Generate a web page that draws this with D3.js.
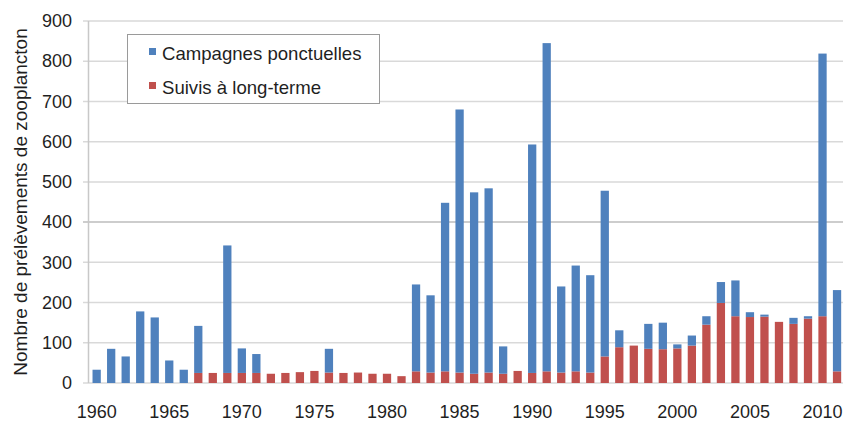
<!DOCTYPE html>
<html>
<head>
<meta charset="utf-8">
<script src="https://cdn.jsdelivr.net/npm/d3@7"></script>
<style>
  body { margin: 0; background: #fff; }
  svg { display: block; font-family: "Liberation Sans", Arial, sans-serif; }
</style>
</head>
<body>
<svg id="chart"></svg>
<script>
// Years 1960-2011
const years = d3.range(1960, 2012);
// Campagnes ponctuelles (blue, stacked on top)
const campagnes = [33, 85, 66, 178, 163, 56, 33, 117, 0, 317,
  61, 47, 0, 0, 0, 0, 59, 0, 0, 0,
  0, 0, 216, 192, 419, 654, 451, 458, 68, 0,
  568, 816, 214, 263, 242, 412, 42, 0, 62, 66,
  10, 25, 21, 52, 89, 12, 5, 0, 15, 6,
  653, 202];
// Suivis à long-terme (red, bottom)
const suivis = [0, 0, 0, 0, 0, 0, 0, 25, 25, 25,
  25, 25, 23, 25, 27, 30, 26, 25, 26, 23,
  23, 17, 29, 26, 29, 26, 23, 26, 23, 30,
  25, 29, 26, 29, 26, 66, 89, 93, 85, 84,
  86, 93, 145, 199, 166, 164, 165, 152, 147, 160,
  166, 29];
const yTicks = [0, 100, 200, 300, 400, 500, 600, 700, 800, 900];
const xTickYears = [1960, 1965, 1970, 1975, 1980, 1985, 1990, 1995, 2000, 2005, 2010];

const W = 843, H = 421;
const blue = "#4f81bd", red = "#c0504d";

const svg = d3.select("#chart").attr("width", W).attr("height", H);

const x = d3.scaleBand()
    .domain(years)
    .range([89.4, 844.3])
    .paddingInner(0.43)
    .paddingOuter(0.215);

const y = d3.scaleLinear().domain([0, 900]).range([383, 21]);

// grid
const grid = svg.append("g");
grid.selectAll("line")
    .data(yTicks)
    .enter().append("line")
    .attr("x1", 83).attr("x2", W)
    .attr("y1", d => y(d)).attr("y2", d => y(d))
    .attr("stroke", d => d === 400 ? "#bdbdbd" : "#d9d9d9")
    .attr("stroke-width", 1.5);

// y axis line
svg.append("line")
    .attr("x1", 88.5).attr("x2", 88.5)
    .attr("y1", y(900)).attr("y2", y(0))
    .attr("stroke", "#c8c8c8").attr("stroke-width", 1.5);

// stacked bars
const rows = years.map((yr, i) => ({ year: yr, suivis: suivis[i], campagnes: campagnes[i] }));
const stack = d3.stack().keys(["suivis", "campagnes"])(rows);
const colors = { suivis: red, campagnes: blue };

stack.forEach(layer => {
    svg.append("g")
        .selectAll("rect")
        .data(layer.filter(d => d[1] - d[0] > 0))
        .enter().append("rect")
        .attr("x", d => x(d.data.year))
        .attr("width", x.bandwidth())
        .attr("y", d => y(d[1]))
        .attr("height", d => y(d[0]) - y(d[1]))
        .attr("fill", colors[layer.key]);
});

// x axis labels
const xAxis = svg.append("g")
    .attr("transform", `translate(0,${y(0)})`)
    .call(d3.axisBottom(x).tickValues(xTickYears).tickSize(0).tickPadding(22));
xAxis.select(".domain").remove();
xAxis.selectAll("text")
    .attr("font-size", 18)
    .attr("font-family", "Liberation Sans, Arial, sans-serif")
    .attr("fill", "#1f1f1f");

// y axis labels
const yAxis = svg.append("g")
    .attr("transform", "translate(72,0)")
    .call(d3.axisLeft(y).tickValues(yTicks).tickSize(0).tickPadding(0));
yAxis.select(".domain").remove();
yAxis.selectAll("text")
    .attr("font-size", 18)
    .attr("font-family", "Liberation Sans, Arial, sans-serif")
    .attr("fill", "#1f1f1f");

// y title
svg.append("text")
    .attr("transform", `translate(27,${(y(0) + y(900)) / 2}) rotate(-90)`)
    .attr("text-anchor", "middle")
    .attr("font-size", 19)
    .attr("fill", "#1f1f1f")
    .text("Nombre de prélèvements de zooplancton");

// legend
const legend = svg.append("g");
legend.append("rect")
    .attr("x", 127.5).attr("y", 34.5)
    .attr("width", 252).attr("height", 69)
    .attr("fill", "#fff")
    .attr("stroke", "#9a9a9a");

const legendItems = [
    { label: "Campagnes ponctuelles", color: blue },
    { label: "Suivis à long-terme", color: red }
];
legendItems.forEach((d, i) => {
    const g = legend.append("g").attr("transform", `translate(0,${i * 34})`);
    g.append("rect")
        .attr("x", 149).attr("y", 48)
        .attr("width", 7).attr("height", 7)
        .attr("fill", d.color);
    g.append("text")
        .attr("x", 162).attr("y", 59.5)
        .attr("font-size", 18.6)
        .attr("fill", "#1f1f1f")
        .text(d.label);
});
</script>
</body>
</html>
